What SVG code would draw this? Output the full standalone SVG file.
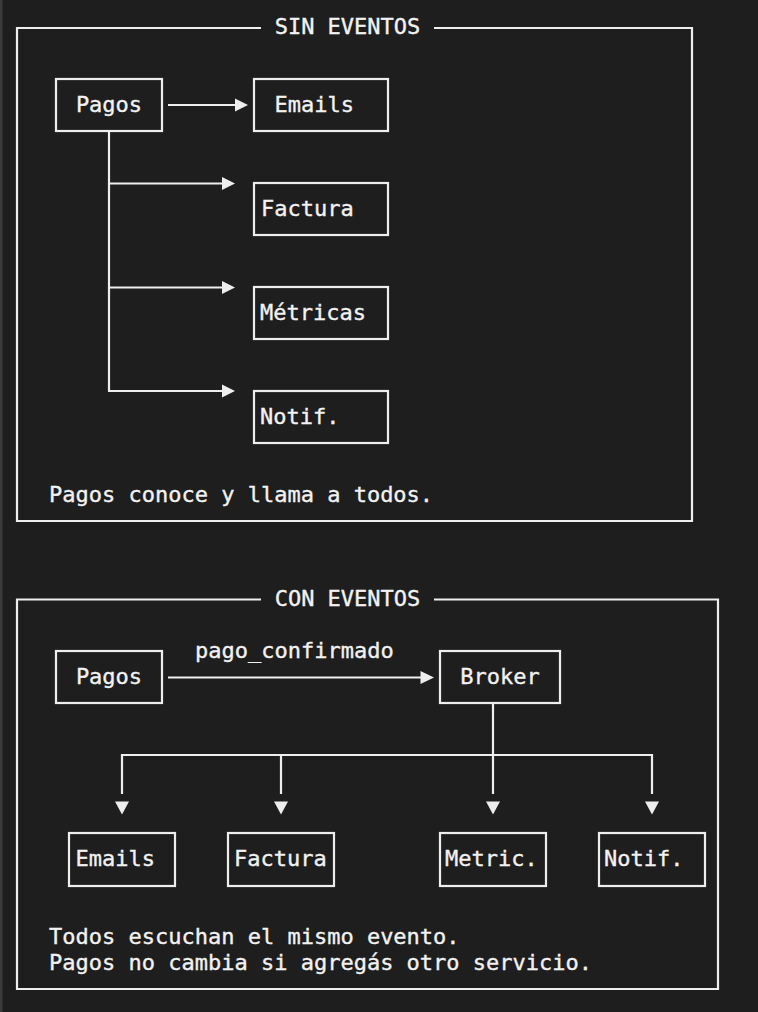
<svg xmlns="http://www.w3.org/2000/svg" width="758" height="1012" viewBox="0 0 758 1012">
<defs>
<style>
.bg{fill:#1e1e1e}
.ln{fill:none;stroke:#eeeeee;stroke-width:2.2}
.box{fill:none;stroke:#eeeeee;stroke-width:2.2}
.ah{fill:#eeeeee}
text{font-family:"DejaVu Sans Mono","Liberation Mono",monospace;font-size:22px;fill:#f2f2f2;stroke:#f2f2f2;stroke-width:0.35}
.c{text-anchor:middle}
</style>
</defs>
<rect class="bg" x="0" y="0" width="758" height="1012"/>
<rect x="0" y="0" width="2.5" height="1012" fill="#3a3a3a"/>

<g id="frame-sin">
<path class="ln" d="M261 28 H17 V521 H692 V28 H434"/>
<text class="c" x="347.5" y="34">SIN EVENTOS</text>
<text x="49" y="501.5">Pagos conoce y llama a todos.</text>
</g>

<g id="s-pagos"><rect class="box" x="56" y="79" width="106" height="52"/><text class="c" x="109" y="111.7">Pagos</text></g>
<g id="s-emails"><rect class="box" x="254" y="79" width="134" height="52"/><text x="274.5" y="111.7">Emails</text></g>
<g id="s-factura"><rect class="box" x="254" y="183" width="134" height="52"/><text x="261" y="215.7">Factura</text></g>
<g id="s-metricas"><rect class="box" x="254" y="287" width="134" height="52"/><text x="260" y="319.7">Métricas</text></g>
<g id="s-notif"><rect class="box" x="254" y="391" width="134" height="52"/><text x="260" y="423.7">Notif.</text></g>

<g id="connectors-sin">
<path class="ln" d="M168 105 H236"/>
<polygon class="ah" points="235,98.5 248,105 235,111.5"/>
<path class="ln" d="M109 131 V391"/>
<path class="ln" d="M109 183.5 H223"/>
<polygon class="ah" points="222,177 235,183.5 222,190"/>
<path class="ln" d="M109 287.5 H223"/>
<polygon class="ah" points="222,281 235,287.5 222,294"/>
<path class="ln" d="M108 391 H223"/>
<polygon class="ah" points="222,384.5 235,391 222,397.5"/>
</g>

<g id="frame-con">
<path class="ln" d="M261 599.5 H17 V989 H718 V599.5 H434"/>
<text class="c" x="347.5" y="606">CON EVENTOS</text>
<text x="49" y="943.5">Todos escuchan el mismo evento.</text>
<text x="49" y="969.5">Pagos no cambia si agregás otro servicio.</text>
</g>

<g id="c-pagos"><rect class="box" x="56" y="651" width="106" height="52"/><text class="c" x="109" y="683.7">Pagos</text></g>
<g id="c-broker"><rect class="box" x="440" y="651" width="120" height="52"/><text class="c" x="500" y="683.7">Broker</text></g>
<g id="c-emails"><rect class="box" x="69" y="833" width="106" height="53"/><text x="75.5" y="865.7">Emails</text></g>
<g id="c-factura"><rect class="box" x="228" y="833" width="106" height="53"/><text x="234" y="865.7">Factura</text></g>
<g id="c-metric"><rect class="box" x="440" y="833" width="106" height="53"/><text x="445" y="865.7">Metric.</text></g>
<g id="c-notif"><rect class="box" x="599" y="833" width="106" height="53"/><text x="604" y="865.7">Notif.</text></g>

<g id="connectors-con">
<path class="ln" d="M168 677.5 H421"/>
<polygon class="ah" points="420.5,671 434,677.5 420.5,684"/>
<text x="195" y="657.7">pago_confirmado</text>
<path class="ln" d="M493 703 V794"/>
<path class="ln" d="M122 794 V755 H652 V794"/>
<path class="ln" d="M281 755 V794"/>
<polygon class="ah" points="115,801.5 129,801.5 122,814.5"/>
<polygon class="ah" points="274,801.5 288,801.5 281,814.5"/>
<polygon class="ah" points="486,801.5 500,801.5 493,814.5"/>
<polygon class="ah" points="645,801.5 659,801.5 652,814.5"/>
</g>
</svg>
